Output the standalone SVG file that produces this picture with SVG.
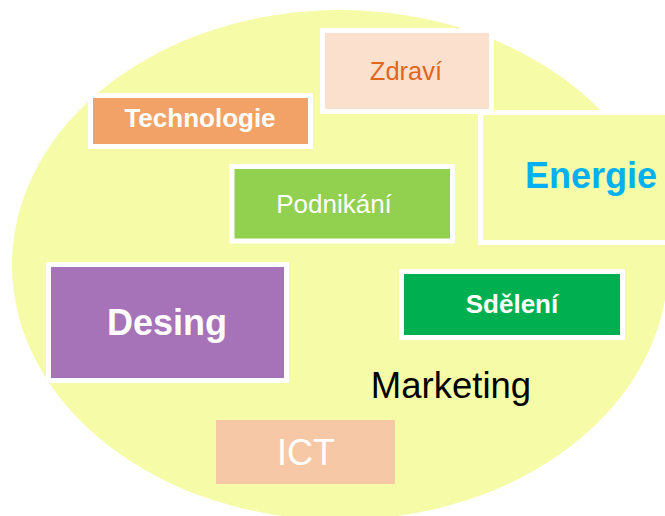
<svg xmlns="http://www.w3.org/2000/svg" width="665" height="516" viewBox="0 0 665 516">
<style>
text{font-family:"Liberation Sans",Arial,sans-serif;text-anchor:middle}
.b{stroke:#FFFFFF;stroke-width:5}
.w{fill:#FFFFFF}
.bold{font-weight:bold}
</style>
<rect width="665" height="516" fill="#FFFFFF"/>
<ellipse id="bg" cx="340" cy="265" rx="328" ry="255" fill="#F6FBA8"/>
<g id="connectors"/>
<g id="zdravi">
<rect class="b" x="322.5" y="30.5" width="169" height="81" fill="#FBE1CD"/>
<text x="406" y="80" font-size="25.5" fill="#E0661E">Zdraví</text>
</g>
<g id="energie">
<rect class="b" x="480.5" y="112.5" width="200" height="130" fill="#F6FBA8"/>
<text x="591" y="188" font-size="36" class="bold" fill="#00B0F0">Energie</text>
</g>
<g id="technologie">
<rect class="b" x="90.5" y="95.5" width="220" height="51" fill="#F2A266"/>
<text x="200" y="127" font-size="26" class="w bold">Technologie</text>
</g>
<g id="podnikani">
<rect class="b" x="232" y="166.5" width="220.5" height="74.5" fill="#92D050"/>
<text x="334" y="213" font-size="26" class="w">Podnikání</text>
</g>
<g id="desing">
<rect class="b" x="48.5" y="264.5" width="238" height="116" fill="#A672B8"/>
<text x="167" y="335" font-size="36" class="w bold">Desing</text>
</g>
<g id="sdeleni">
<rect class="b" x="401.5" y="271.5" width="221" height="66" fill="#00B050"/>
<text x="512" y="313" font-size="26" class="w bold">Sdělení</text>
</g>
<g id="marketing">
<text x="451" y="398" font-size="36.5" fill="#000000">Marketing</text>
</g>
<g id="ict">
<rect x="216" y="420" width="179" height="64" fill="#F7C8A5"/>
<text x="306" y="465" font-size="36" class="w">ICT</text>
</g>
</svg>
